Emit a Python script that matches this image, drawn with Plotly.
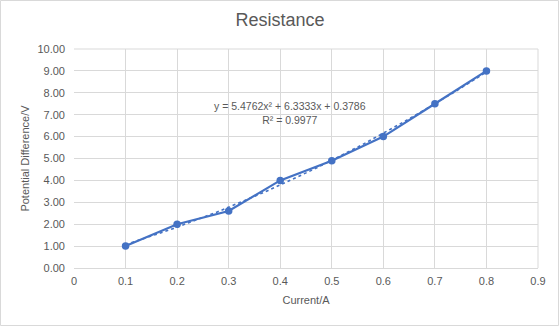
import numpy as np
import plotly.graph_objects as go

# Data
current = [0.1, 0.2, 0.3, 0.4, 0.5, 0.6, 0.7, 0.8]
voltage = [1.0, 2.0, 2.6, 4.0, 4.9, 6.0, 7.5, 9.0]
x_ticks = [0, 0.1, 0.2, 0.3, 0.4, 0.5, 0.6, 0.7, 0.8, 0.9]
x_tick_labels = ["0", "0.1", "0.2", "0.3", "0.4", "0.5", "0.6", "0.7", "0.8", "0.9"]
y_ticks = [0, 1, 2, 3, 4, 5, 6, 7, 8, 9, 10]
y_tick_labels = ["%.2f" % v for v in y_ticks]
equation_text = "y = 5.4762x² + 6.3333x + 0.3786<br>R² = 0.9977"

# Polynomial (order 2) trendline fitted to the data
coef = np.polyfit(current, voltage, 2)
xs = np.linspace(min(current), max(current), 100)
ys = np.polyval(coef, xs)

blue = "#4472C4"
grey_text = "#595959"
grid = "#D9D9D9"
font_family = "Liberation Sans, Arial, sans-serif"

fig = go.Figure()
fig.add_trace(go.Scatter(x=xs, y=ys, mode="lines",
                         line=dict(color=blue, width=1.6, dash="dot"),
                         hoverinfo="skip", showlegend=False))
fig.add_trace(go.Scatter(x=current, y=voltage, mode="lines+markers",
                         line=dict(color=blue, width=2.2),
                         marker=dict(color=blue, size=7.5),
                         showlegend=False))

W, H = 560, 327
l, r, t, b = 74, 22, 49, 59
pw, ph = W - l - r, H - t - b

fig.update_layout(
    width=W, height=H,
    margin=dict(l=l, r=r, t=t, b=b),
    paper_bgcolor="white", plot_bgcolor="white",
    font=dict(family=font_family, color=grey_text, size=11),
    title=dict(text="Resistance", x=0.5, xanchor="center", y=1 - 20 / H, yanchor="middle",
               font=dict(size=18, color=grey_text, family=font_family)),
    xaxis=dict(range=[0, 0.9], tickvals=x_ticks, ticktext=x_tick_labels,
               showgrid=True, gridcolor=grid, gridwidth=1,
               zeroline=False, showline=True, linecolor=grid, linewidth=1,
               ticks="", tickfont=dict(size=11, color=grey_text), ticklabelstandoff=3,
               title=dict(text="Current/A", font=dict(size=11, color=grey_text), standoff=10),
               mirror=False),
    yaxis=dict(range=[0, 10], tickvals=y_ticks, ticktext=y_tick_labels,
               showgrid=True, gridcolor=grid, gridwidth=1,
               zeroline=False, showline=False,
               ticks="", tickfont=dict(size=11, color=grey_text), ticklabelstandoff=8,
               title=dict(text="Potential Difference/V", font=dict(size=11, color=grey_text), standoff=5)),
    annotations=[dict(text=equation_text, x=(290 - l) / pw, y=(H - b - 113) / ph,
                      xref="paper", yref="paper", showarrow=False,
                      align="center", xanchor="center", yanchor="middle",
                      font=dict(size=10.5, color=grey_text, family=font_family))],
    shapes=[
        dict(type="line", xref="paper", yref="paper", x0=1, x1=1, y0=0, y1=1,
             line=dict(color=grid, width=1)),
        dict(type="line", xref="paper", yref="paper", x0=0, x1=1, y0=1, y1=1,
             line=dict(color=grid, width=1)),
        dict(type="rect", xref="paper", yref="paper",
             x0=(0.5 - l) / pw, x1=(W - 1.5 - l) / pw,
             y0=(H - b - (H - 1.5)) / ph, y1=(H - b - 0.5) / ph,
             line=dict(color="#D9D9D9", width=1)),
    ],
)

fig.write_html("out.html")
